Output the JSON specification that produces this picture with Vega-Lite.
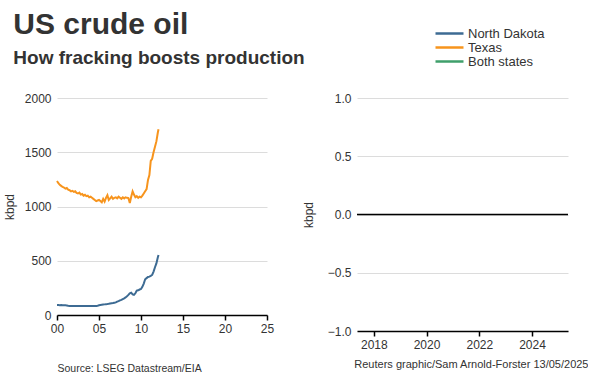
{
  "$schema": "https://vega.github.io/schema/vega-lite/v6.json",
  "autosize": {"type": "pad"},
  "padding": {"left": 3, "top": 10, "right": 0, "bottom": 0},
  "background": "white",
  "bounds": "flush",
  "spacing": 90,
  "config": {
    "font": "Liberation Sans",
    "view": {"stroke": null},
    "axis": {
      "labelFont": "Liberation Sans",
      "labelFontSize": 12,
      "labelColor": "#333333",
      "titleFont": "Liberation Sans",
      "titleFontSize": 12,
      "titleFontWeight": "normal",
      "titleColor": "#333333",
      "gridColor": "#dcdcdc",
      "gridWidth": 1
    },
    "axisY": {"domain": false, "ticks": false, "tickSize": 0, "labelPadding": 6, "grid": true},
    "axisX": {"domain": true, "domainColor": "#000000", "domainWidth": 1.5, "ticks": true, "tickColor": "#000000", "tickWidth": 1.5, "tickSize": 5, "labelPadding": 3, "grid": false, "labelFlush": false},
    "legend": {"labelFont": "Liberation Sans", "labelFontSize": 13, "labelColor": "#333333"}
  },
  "datasets": {
    "oil": [
      {"date": "2000/01/01", "North Dakota": 92, "Texas": 1235},
      {"date": "2000/03/01", "North Dakota": 92, "Texas": 1215},
      {"date": "2000/05/01", "North Dakota": 91, "Texas": 1200},
      {"date": "2000/07/01", "North Dakota": 92, "Texas": 1190},
      {"date": "2000/09/01", "North Dakota": 90, "Texas": 1180},
      {"date": "2000/11/01", "North Dakota": 90, "Texas": 1175},
      {"date": "2001/01/01", "North Dakota": 89, "Texas": 1165},
      {"date": "2001/03/01", "North Dakota": 88, "Texas": 1170},
      {"date": "2001/05/01", "North Dakota": 85, "Texas": 1155},
      {"date": "2001/07/01", "North Dakota": 83, "Texas": 1150},
      {"date": "2001/09/01", "North Dakota": 82, "Texas": 1140},
      {"date": "2001/11/01", "North Dakota": 83, "Texas": 1145},
      {"date": "2002/01/01", "North Dakota": 82, "Texas": 1135},
      {"date": "2002/03/01", "North Dakota": 82, "Texas": 1140},
      {"date": "2002/05/01", "North Dakota": 82, "Texas": 1125},
      {"date": "2002/07/01", "North Dakota": 82, "Texas": 1120},
      {"date": "2002/09/01", "North Dakota": 82, "Texas": 1128},
      {"date": "2002/11/01", "North Dakota": 82, "Texas": 1110},
      {"date": "2003/01/01", "North Dakota": 82, "Texas": 1115},
      {"date": "2003/03/01", "North Dakota": 82, "Texas": 1100},
      {"date": "2003/05/01", "North Dakota": 82, "Texas": 1108},
      {"date": "2003/07/01", "North Dakota": 82, "Texas": 1095},
      {"date": "2003/09/01", "North Dakota": 82, "Texas": 1100},
      {"date": "2003/11/01", "North Dakota": 82, "Texas": 1085},
      {"date": "2004/01/01", "North Dakota": 82, "Texas": 1090},
      {"date": "2004/03/01", "North Dakota": 82, "Texas": 1080},
      {"date": "2004/05/01", "North Dakota": 83, "Texas": 1070},
      {"date": "2004/07/01", "North Dakota": 83, "Texas": 1060},
      {"date": "2004/09/01", "North Dakota": 84, "Texas": 1050},
      {"date": "2004/11/01", "North Dakota": 86, "Texas": 1055},
      {"date": "2005/01/01", "North Dakota": 90, "Texas": 1060},
      {"date": "2005/03/01", "North Dakota": 92, "Texas": 1050},
      {"date": "2005/05/01", "North Dakota": 94, "Texas": 1038},
      {"date": "2005/07/01", "North Dakota": 96, "Texas": 1070},
      {"date": "2005/09/01", "North Dakota": 98, "Texas": 1045},
      {"date": "2005/11/01", "North Dakota": 100, "Texas": 1080},
      {"date": "2006/01/01", "North Dakota": 101, "Texas": 1105},
      {"date": "2006/03/01", "North Dakota": 103, "Texas": 1060},
      {"date": "2006/05/01", "North Dakota": 106, "Texas": 1075},
      {"date": "2006/07/01", "North Dakota": 108, "Texas": 1090},
      {"date": "2006/09/01", "North Dakota": 110, "Texas": 1070},
      {"date": "2006/11/01", "North Dakota": 113, "Texas": 1080},
      {"date": "2007/01/01", "North Dakota": 116, "Texas": 1085},
      {"date": "2007/03/01", "North Dakota": 123, "Texas": 1075},
      {"date": "2007/05/01", "North Dakota": 128, "Texas": 1090},
      {"date": "2007/07/01", "North Dakota": 135, "Texas": 1080},
      {"date": "2007/09/01", "North Dakota": 140, "Texas": 1070},
      {"date": "2007/11/01", "North Dakota": 147, "Texas": 1085},
      {"date": "2008/01/01", "North Dakota": 154, "Texas": 1075},
      {"date": "2008/03/01", "North Dakota": 162, "Texas": 1085},
      {"date": "2008/05/01", "North Dakota": 172, "Texas": 1080},
      {"date": "2008/07/01", "North Dakota": 185, "Texas": 1078},
      {"date": "2008/09/01", "North Dakota": 200, "Texas": 1032},
      {"date": "2008/11/01", "North Dakota": 206, "Texas": 1090},
      {"date": "2009/01/01", "North Dakota": 190, "Texas": 1140},
      {"date": "2009/03/01", "North Dakota": 185, "Texas": 1110},
      {"date": "2009/05/01", "North Dakota": 200, "Texas": 1085},
      {"date": "2009/07/01", "North Dakota": 225, "Texas": 1095},
      {"date": "2009/09/01", "North Dakota": 228, "Texas": 1080},
      {"date": "2009/11/01", "North Dakota": 235, "Texas": 1090},
      {"date": "2010/01/01", "North Dakota": 240, "Texas": 1085},
      {"date": "2010/03/01", "North Dakota": 260, "Texas": 1100},
      {"date": "2010/05/01", "North Dakota": 290, "Texas": 1120},
      {"date": "2010/07/01", "North Dakota": 329, "Texas": 1140},
      {"date": "2010/09/01", "North Dakota": 340, "Texas": 1160},
      {"date": "2010/11/01", "North Dakota": 350, "Texas": 1245},
      {"date": "2011/01/01", "North Dakota": 354, "Texas": 1290},
      {"date": "2011/03/01", "North Dakota": 360, "Texas": 1420},
      {"date": "2011/05/01", "North Dakota": 369, "Texas": 1440},
      {"date": "2011/07/01", "North Dakota": 400, "Texas": 1500},
      {"date": "2011/09/01", "North Dakota": 440, "Texas": 1550},
      {"date": "2011/11/01", "North Dakota": 475, "Texas": 1600},
      {"date": "2012/01/01", "North Dakota": 530, "Texas": 1680},
      {"date": "2012/02/01", "North Dakota": 554, "Texas": 1712}
    ]
  },
  "hconcat": [
    {
      "width": 210,
      "height": 217,
      "title": {
        "text": "US crude oil",
        "subtitle": "How fracking boosts production",
        "anchor": "start",
        "frame": "bounds",
        "font": "Liberation Sans",
        "fontSize": 30,
        "fontWeight": "bold",
        "color": "#333333",
        "subtitleFont": "Liberation Sans",
        "subtitleFontSize": 19,
        "subtitleFontWeight": "bold",
        "subtitleColor": "#333333",
        "subtitlePadding": 9,
        "offset": 24,
        "dx": 10
      },
      "data": {"name": "oil"},
      "transform": [{"fold": ["North Dakota", "Texas"], "as": ["series", "value"]}],
      "mark": {"type": "line", "strokeWidth": 2},
      "encoding": {
        "x": {
          "field": "date",
          "type": "temporal",
          "scale": {"domain": [{"year": 2000, "month": 1, "date": 1}, {"year": 2025, "month": 1, "date": 1}]},
          "axis": {
            "format": "%y",
            "values": [{"year": 2000, "month": 1, "date": 1}, {"year": 2005, "month": 1, "date": 1}, {"year": 2010, "month": 1, "date": 1}, {"year": 2015, "month": 1, "date": 1}, {"year": 2020, "month": 1, "date": 1}, {"year": 2025, "month": 1, "date": 1}],
            "title": "Source: LSEG Datastream/EIA",
            "titleFontSize": 10.5,
            "titleAnchor": "start",
            "titleAlign": "left",
            "titleBaseline": "alphabetic",
            "titleX": 0,
            "titleY": 56
          }
        },
        "y": {
          "field": "value",
          "type": "quantitative",
          "scale": {"domain": [0, 2000]},
          "axis": {"values": [0, 500, 1000, 1500, 2000], "format": "d", "title": "kbpd", "titlePadding": 8}
        },
        "color": {
          "field": "series",
          "type": "nominal",
          "scale": {"domain": ["North Dakota", "Texas", "Both states"], "range": ["#3d6b93", "#f7941d", "#3f9f6b"]},
          "legend": null
        }
      }
    },
    {
      "width": 211,
      "height": 233,
      "layer": [
        {
          "data": {"values": []},
          "mark": {"type": "line", "strokeWidth": 2},
          "encoding": {
            "x": {
              "field": "date",
              "type": "temporal",
              "scale": {"domain": [{"year": 2017, "month": 5, "date": 13}, {"year": 2025, "month": 5, "date": 13}]},
              "axis": {
                "format": "%Y",
                "values": [{"year": 2018, "month": 1, "date": 1}, {"year": 2020, "month": 1, "date": 1}, {"year": 2022, "month": 1, "date": 1}, {"year": 2024, "month": 1, "date": 1}],
                "title": "Reuters graphic/Sam Arnold-Forster 13/05/2025",
                "titleFontSize": 11,
                "titleAlign": "right",
                "titleBaseline": "alphabetic",
                "titleX": 231,
                "titleY": 36
              }
            },
            "y": {
              "field": "value",
              "type": "quantitative",
              "scale": {"domain": [-1, 1]},
              "axis": {"values": [-1, -0.5, 0, 0.5, 1], "format": ".1f", "title": "kbpd", "titlePadding": 12}
            },
            "color": {
              "field": "series",
              "type": "nominal",
              "scale": {"domain": ["North Dakota", "Texas", "Both states"], "range": ["#3d6b93", "#f7941d", "#3f9f6b"]},
              "legend": {
                "orient": "none",
                "legendX": 86,
                "legendY": -71,
                "title": null,
                "padding": 0,
                "symbolType": "M-2.8,0H2.8",
                "symbolSize": 100,
                "symbolStrokeWidth": 2.5,
                "labelOffset": 12,
                "rowPadding": 0
              }
            }
          }
        },
        {
          "data": {"values": [{}]},
          "mark": {"type": "rule", "color": "#000000", "strokeWidth": 1.5},
          "encoding": {"y": {"datum": 0}}
        }
      ]
    }
  ],
  "resolve": {"scale": {"color": "independent", "x": "independent", "y": "independent"}, "legend": {"color": "independent"}}
}
